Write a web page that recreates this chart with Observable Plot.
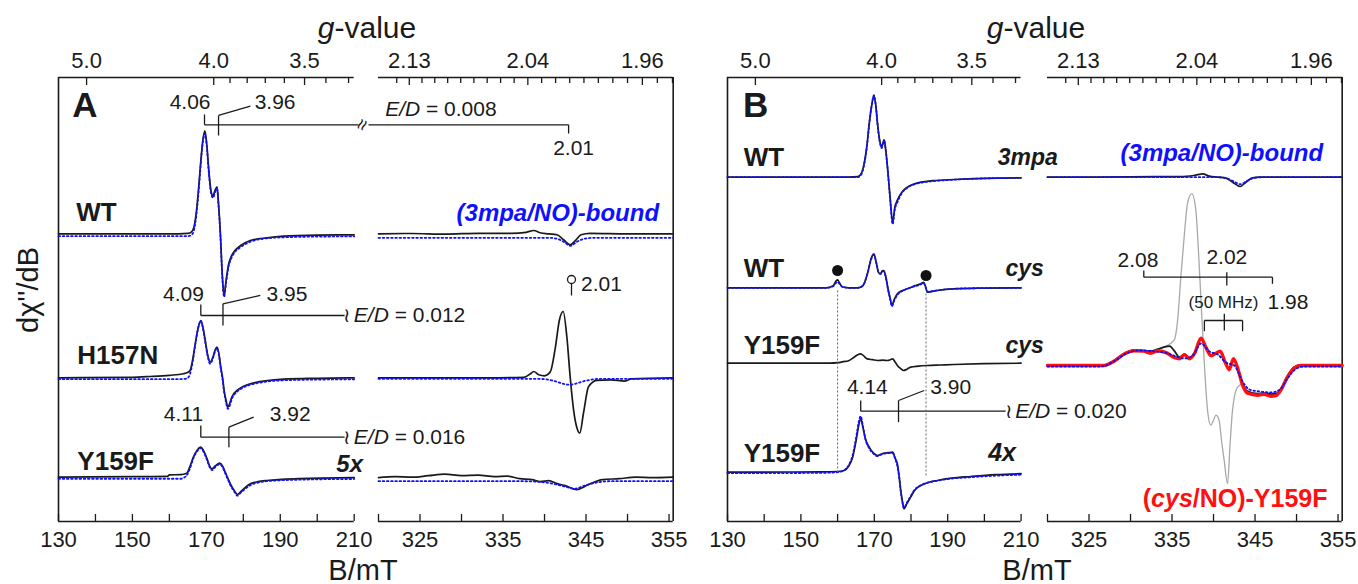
<!DOCTYPE html>
<html><head><meta charset="utf-8">
<script src="https://cdn.jsdelivr.net/npm/d3@7"></script>
<script src="https://cdn.jsdelivr.net/npm/@observablehq/plot@0.6"></script>
<style>
body{margin:0;background:#fff;}
#fig{position:relative;width:1358px;height:584px;overflow:hidden;font-family:"Liberation Sans",Arial,sans-serif;color:#1a1a1a;}
#fig svg{position:absolute;overflow:visible;}
.title{position:absolute;transform:translate(-50%,-50%);white-space:nowrap;line-height:1;}
</style></head>
<body><div id="fig">
<div class="title" style="left:367px;top:28px;font-size:30px"><i>g</i>-value</div>
<div class="title" style="left:1036px;top:28px;font-size:30px"><i>g</i>-value</div>
<div class="title" style="left:363px;top:570px;font-size:29px">B/mT</div>
<div class="title" style="left:1037px;top:570px;font-size:29px">B/mT</div>
<div class="title" style="left:28px;top:290px;font-size:29px;transform:translate(-50%,-50%) rotate(-90deg)">dχ''/dB</div>
</div>
<script>
// ---------- axes ----------
const lowDomain = [130, 210];
const highDomain = [320, 355.5];
const lowTicks = [130, 140, 150, 160, 170, 180, 190, 200, 210];
const lowLabels = [130, 150, 170, 190, 210];
const highTicks = [320, 325, 330, 335, 340, 345, 350, 355];
const highLabels = [325, 335, 345, 355];
const gLowTicks = [5.0, 4.0, 3.9, 3.8, 3.7, 3.6, 3.5, 3.4, 3.3];
const gLowLabels = [5.0, 4.0, 3.5];
const gHighTicks = [2.14, 2.13, 2.12, 2.11, 2.10, 2.09, 2.08, 2.07, 2.06, 2.05, 2.04, 2.03, 2.02, 2.01, 2.00, 1.99, 1.98, 1.97, 1.96, 1.95, 1.94];
const gHighLabels = [2.13, 2.04, 1.96];
const hvLow = 688;    // B(mT) * g, low-field scans
const hvHigh = 689.5; // B(mT) * g, high-field scans

// ---------- baselines (stacking offsets) ----------
const baselineA = {WT: 287.7, H157N: 143.7, Y159F: 44.3};
const baselineB = {WT_3mpa: 344.3, WT_cys: 233.7, Y159F_cys: 158.3, Y159F_4x: 49.3};

// ---------- panel A spectra [B (mT), signal] ----------
const A_WT_low_exp = [[130,0],[160,0],[165,0.5],[166.0,2],[166.6,6],[167.3,22],[167.9,45],[168.4,68],[169.0,92],[169.6,103],[170.1,90],[170.7,62],[171.3,42],[171.8,38],[172.4,44],[172.9,47],[173.3,30],[173.8,0],[174.3,-40],[174.8,-62],[175.3,-48],[176.0,-31],[176.7,-23],[177.4,-18.4],[179.2,-12],[181.9,-6.7],[186.4,-4],[190.9,-2.4],[200,-1.3],[210,-1]];
const A_WT_low_sim = [[130,-2.4],[165,-2.4],[166.0,-1],[166.6,3],[167.3,19],[167.9,42],[168.4,66],[169.0,90],[169.6,100],[170.1,88],[170.7,60],[171.3,40],[171.8,36],[172.4,42],[172.9,45],[173.3,28],[173.8,-2],[174.3,-42],[174.8,-63],[175.3,-50],[176.0,-33],[176.7,-25],[177.4,-20],[179.2,-13.5],[181.9,-8],[186.4,-4.5],[190.9,-3.5],[200,-2.8],[210,-2.6]];
const A_H157N_low_exp = [[130,0],[150,0.5],[154.8,1.3],[160,2.5],[163.8,4],[165.0,5.5],[165.6,7.3],[166.3,18],[167.0,34],[167.8,50],[168.5,57.3],[169.1,50],[169.7,37.3],[170.4,22],[171.0,15.7],[171.9,22],[172.4,28],[172.9,30.7],[173.4,24],[173.9,10.7],[174.4,0],[174.8,-12.7],[175.3,-22],[175.8,-29.3],[176.3,-26],[176.9,-19.3],[178.3,-12.7],[179.8,-9],[181.9,-6],[186,-3],[190.9,-1.3],[200,-0.5],[210,0]];
const A_H157N_low_sim = [[130,-1.4],[163,-1.4],[164.8,-0.5],[165.6,4],[166.3,16],[167.0,33],[167.8,50],[168.5,57],[169.1,49],[169.7,36],[170.4,21],[171.0,14],[171.9,21],[172.4,27],[172.9,29.5],[173.4,23],[173.9,9],[174.4,-2],[174.8,-14],[175.3,-24],[175.8,-31],[176.3,-28],[176.9,-21],[178.3,-14],[179.8,-10],[181.9,-7],[186,-4],[190.9,-2.5],[200,-1.8],[210,-1.5]];
const A_Y159F_low_exp = [[130,0],[150,0.5],[159.5,0.8],[160,2.3],[163,2.5],[164.7,4],[165.6,11],[166.5,20],[167.5,27],[168.5,30],[169.3,26],[170.2,18.3],[170.9,11],[171.5,8.3],[172.5,11.5],[173.6,14],[174.4,11],[175.1,5],[175.8,-1],[176.5,-6.7],[177.5,-13],[178.4,-17.3],[179.2,-15],[180.1,-11.7],[181.9,-6.7],[184,-4.5],[186.4,-3.3],[195,-1.5],[210,-0.5]];
const A_Y159F_low_sim = [[130,-1.6],[163,-1.6],[164.5,1],[165.6,9],[166.5,19],[167.5,26],[168.5,29],[169.3,25],[170.2,17],[170.9,10],[171.5,7],[172.5,10.5],[173.6,13],[174.4,10],[175.1,4],[175.8,-2],[176.5,-8],[177.5,-14],[178.4,-18.5],[179.2,-16],[180.1,-13],[181.9,-8],[184,-5.5],[186.4,-4],[195,-2.5],[210,-1.8]];

const A_WT_high_exp = [[320,0],[324,0.3],[328,-0.3],[332,0.5],[336,0.5],[337.8,1.5],[338.7,3.3],[339.5,1],[340.5,0],[341.5,-1],[342.3,-6],[343.1,-11],[343.8,-6],[344.4,-1],[345.5,0.5],[350,0],[355.5,0]];
const A_WT_high_sim = [[320,-4],[340.5,-4],[341.5,-5],[342.3,-8],[343.1,-12],[343.9,-8],[344.8,-5],[346,-4],[355.5,-4]];
const A_H157N_high_exp = [[320,0],[333,0],[337.5,0.5],[338.3,4],[338.7,6.3],[339.3,3],[340.0,2],[340.7,6],[341.3,30],[341.8,58],[342.25,66.3],[342.7,40],[343.1,0],[343.5,-32],[343.9,-50],[344.25,-55.3],[344.7,-35],[345.3,-9],[346.3,-2.5],[348,-2],[349.6,-3.3],[350.5,-1],[355.5,0]];
const A_H157N_high_sim = [[320,-1],[339,-1],[340.5,-2],[341.5,-4],[342.5,-6.5],[343.1,-7],[343.7,-6],[344.7,-3.5],[346,-1.5],[347,-1],[355.5,-1]];
const A_Y159F_high_exp = [[320,-0.5],[322,0.5],[324,0],[326,1.5],[328,3],[330,1.5],[332,2],[334,0.5],[335.5,1],[337,-1.5],[338.5,-2.5],[339.5,-4.5],[340.5,-3.5],[341.5,-6.5],[342.5,-8.5],[343.9,-12.5],[344.8,-9.5],[345.8,-5.5],[347,-2.5],[349,-1.5],[351,0],[353,-0.5],[355.5,0]];
const A_Y159F_high_sim = [[320,-4],[337,-4],[339,-4.5],[341,-6.5],[342.5,-9.5],[343.6,-11.5],[344.8,-8.5],[346.5,-5],[348,-4],[355.5,-4]];

// ---------- panel B spectra [B (mT), signal] ----------
const B_WT3mpa_low_exp = [[130,0],[163,0],[165.5,0.5],[166.5,4],[167.2,13],[168.0,32],[168.6,53],[169.3,72],[169.9,81.7],[170.4,72],[170.9,53],[171.5,36],[172.0,30],[172.4,35],[172.7,37.4],[173.1,28],[173.6,10],[174.3,-20],[175.0,-45],[175.6,-30],[176.3,-23],[177.5,-15],[179,-10],[181,-6.5],[182.7,-5],[186,-3.5],[191.7,-2.3],[200,-1.2],[210,-0.7]];
const B_WT3mpa_low_sim = [[130,0],[163,0],[165.5,0],[166.5,3],[167.2,12],[168.0,31],[168.6,52],[169.3,72],[169.9,82],[170.4,72],[170.9,52],[171.5,35],[172.0,29],[172.4,34],[172.7,36],[173.1,27],[173.6,9],[174.3,-21],[175.0,-47],[175.6,-32],[176.3,-25],[177.5,-16],[179,-10.5],[181,-7],[182.7,-5.5],[186,-4],[191.7,-2.5],[200,-1.2],[210,-0.7]];
const B_WTcys_low_exp = [[130,0],[157,0],[158.8,2],[159.6,7],[160.0,8],[160.5,5],[161.3,1],[163,0],[165.5,0],[166.5,1],[167.2,4],[168.2,15],[169.2,30],[169.9,34],[170.6,24],[171.2,15],[171.7,14],[172.2,17],[172.6,17.3],[173.2,10],[173.8,-2],[174.3,-10],[174.8,-17.7],[175.4,-12],[176.3,-6],[177.5,-3],[179,-1],[181,2],[182.7,4],[183.4,5.5],[183.9,2],[184.5,-4.4],[185.5,-3.8],[187.2,-2.7],[191.7,-1],[200,-0.3],[210,0]];
const B_WTcys_low_sim = [[130,0],[157,0],[158.8,1.5],[159.6,5],[160.0,6],[160.5,4],[161.3,1],[163,0],[165.5,0],[166.5,1],[167.2,4],[168.2,15],[169.2,29],[169.9,33],[170.6,24],[171.2,15],[171.7,14],[172.2,16],[172.6,16.5],[173.2,9],[173.8,-3],[174.3,-11],[174.8,-18.5],[175.4,-13],[176.3,-7],[177.5,-3.5],[179,-1],[181,1.5],[182.7,3.5],[183.4,5],[183.9,1.5],[184.5,-4],[185.5,-3.5],[187.2,-2.5],[191.7,-1],[200,-0.3],[210,0]];
const B_Y159Fcys_low_exp = [[130,0],[158,0],[160,0.5],[161.5,1.5],[163,2.5],[164.5,6],[165.5,8.5],[166.3,9.4],[167.2,7],[168.1,4.3],[169.5,3.5],[170.9,2.7],[172.3,3],[173.6,2.7],[174.4,3.5],[175.0,4.3],[175.7,1],[176.3,-2.3],[177.2,-5.5],[178.0,-7.3],[178.9,-6],[179.9,-4],[182,-3],[184.5,-2.3],[188,-1.8],[191.7,-1.3],[200,-0.5],[210,0]];
const B_Y159F4x_low_exp = [[130,0],[155,0.3],[160,0.7],[161.8,1.7],[163,6],[164.1,15],[165.2,35],[165.8,48],[166.3,53.4],[166.9,45],[167.6,33],[168.6,25],[169.8,19],[170.9,16.7],[171.8,18],[172.7,19],[173.8,19.5],[175.0,20],[175.7,14],[176.3,8],[176.8,-5],[177.2,-18],[177.7,-30],[178.1,-36.6],[178.8,-32],[179.9,-25],[181,-18],[182.7,-13.3],[184.5,-10.5],[187.2,-8.3],[191,-6],[196.3,-4.3],[203,-2.5],[210,-1.5]];
const B_Y159F4x_low_sim = [[130,-1],[155,-0.7],[160,0],[161.8,2],[163,7],[164.1,17],[165.2,38],[165.8,51],[166.3,56],[166.9,46],[167.6,33],[168.6,24],[169.8,18.5],[170.9,16],[171.8,17.5],[172.7,18.5],[173.8,19],[175.0,19],[175.7,13],[176.3,6],[176.8,-6],[177.2,-19],[177.7,-31],[178.1,-36],[178.8,-31],[179.9,-24],[181,-17.5],[182.7,-13],[184.5,-10.5],[187.2,-8.5],[191,-6.5],[196.3,-5],[203,-3.5],[210,-2.5]];

const B_WT3mpa_high_exp = [[320,0],[330,0.3],[334,0.5],[336,0.5],[337.8,2],[338.7,3.3],[339.5,1],[340.5,0],[341.5,-1],[342.3,-5],[343.2,-9.3],[343.9,-5],[344.6,-1],[345.5,0],[355.5,0]];
const B_WT3mpa_high_sim = [[320,0],[340.5,0],[341.5,-1],[342.4,-4],[343.2,-7],[344,-4],[344.8,-1],[346,0],[355.5,0]];
const B_Y159Fcys_high_exp = [[320,-2],[326.8,-2],[328.0,2.5],[329.2,9.5],[330.4,13],[331.6,12.5],[332.4,12],[333.3,14],[334.0,16],[334.7,17],[335.3,12],[335.9,6],[336.5,9],[337.1,5],[337.7,10],[338.5,24],[339.1,16],[339.7,8],[340.2,10],[340.8,12],[341.4,1],[341.9,-6],[342.4,4],[343.0,-7],[343.5,-21],[344.1,-28],[345.3,-30.5],[346.1,-30],[346.9,-31],[347.5,-30.5],[348.1,-26],[348.9,-13],[349.7,-4],[350.5,-2],[355.5,-2]];
const B_grey_high = [[320,-2],[326.8,-2],[328.0,2.5],[329.2,9.5],[330.4,13],[331.6,12.5],[332.4,12],[333.3,14],[334.05,16],[335.25,23],[335.7,45],[336.06,86],[336.5,130],[336.87,160],[337.39,169.5],[337.87,153],[338.2,110],[338.47,66],[338.87,3],[339.28,-47],[339.67,-62],[340.0,-57],[340.28,-52],[340.67,-57],[341.0,-80],[341.28,-97],[341.69,-120.5],[342.0,-80],[342.29,-47],[342.9,-24],[343.5,-21],[344.1,-28],[345.3,-30.5],[346.1,-30],[346.9,-31],[347.5,-30.5],[348.1,-26],[348.9,-13],[349.7,-4],[350.5,-2],[355.5,-2]];
const B_cysNO_high_red = [[320,-2.3],[326.8,-2.3],[328.0,2],[329.2,9],[330.4,12.5],[331.6,12],[332.4,10],[333.3,12.5],[334.3,10.5],[335.3,5.5],[335.9,4.5],[336.5,8.5],[337.1,4.5],[337.7,9.5],[338.5,25],[339.1,15.5],[339.7,7.5],[340.2,9.5],[340.8,12],[341.4,1],[341.9,-6.5],[342.4,4.5],[343.0,-7.5],[343.5,-22],[344.1,-30],[345.3,-32],[346.1,-31],[346.9,-33],[347.5,-32.5],[348.1,-27],[348.9,-14],[349.7,-5],[350.5,-2.3],[355.5,-2.3]];
const B_cysNO_high_sim = [[320,-3.3],[326.5,-3.3],[328,1.7],[329.5,9.7],[331,12.7],[333,11.7],[334.5,9.7],[335.5,6.7],[336.5,4.7],[337.5,7.7],[338.5,19.7],[339.5,11.7],[340.5,8.7],[341.5,0.7],[342.5,-2.3],[343.5,-18.3],[344.3,-26.3],[345.5,-28.3],[347,-29.3],[348,-26.3],[349,-14.3],[350,-5.3],[351,-3.3],[355.5,-3.3]];

// ---------- styles ----------
const INK = "#1a1a1a";
const BLUE = "#1010ff";
const RED = "#ff1010";
const FONT = "Liberation Sans, Arial, sans-serif";
const exp = (data, base) => ({data, base, stroke: INK, width: 1.7});
const sim = (data, base) => ({data, base, stroke: BLUE, width: 1.8, dash: "1.6,2.6"});

// ---------- layout ----------
const fig = document.getElementById("fig");
const FRAME_TOP = 77, FRAME_H = 444;
const M = {top: 40, right: 30, bottom: 40, left: 30};

function T(x, y, text, o = {}) {
  return Plot.text([{x, y, text}], {x: "x", y: "y", text: "text", fontSize: o.size ?? 21,
    fontWeight: o.weight ?? "normal", fontStyle: o.style ?? "normal", textAnchor: o.anchor ?? "middle",
    fill: o.fill ?? INK, rotate: o.rotate ?? 0});
}

function segment({left, right, domain, side, hv, bTicks, bLabels, gTicks, gLabels, gDigits, traces, links = [], dotted = [], texts = [], extra = []}) {
  const marks = [
    Plot.ruleY([0, FRAME_H], {stroke: INK, strokeWidth: 1.6}),
    Plot.ruleX([side === "left" ? domain[0] : domain[1]], {stroke: INK, strokeWidth: 1.6}),
    Plot.ruleX(bTicks, {x: d => d, y1: 0, y2: 7, stroke: INK, strokeWidth: 1.3}),
    Plot.text(bLabels, {x: d => d, y: 0, dy: 18, text: d => String(d), fontSize: 22, fill: INK}),
    Plot.ruleX(gTicks, {x: g => hv / g, y1: FRAME_H, y2: g => FRAME_H - (gLabels.includes(g) ? 8 : 6), stroke: INK, strokeWidth: 1.3}),
    Plot.text(gLabels, {x: g => hv / g, y: FRAME_H, dy: -17, text: g => g.toFixed(gDigits), fontSize: 22, fill: INK}),
    ...traces.map(t => Plot.line(t.data, {x: d => d[0], y: d => t.base + d[1], curve: "monotone-x",
      stroke: t.stroke, strokeWidth: t.width, strokeDasharray: t.dash})),
    Plot.link(links, {x1: "x1", y1: "y1", x2: "x2", y2: "y2", stroke: INK, strokeWidth: 1.3}),
    Plot.link(dotted, {x1: "x1", y1: "y1", x2: "x2", y2: "y2", stroke: "#666", strokeWidth: 1, strokeDasharray: "2,2"}),
    ...extra,
    ...texts
  ];
  const svg = Plot.plot({
    width: right - left + M.left + M.right,
    height: FRAME_H + M.top + M.bottom,
    marginTop: M.top, marginRight: M.right, marginBottom: M.bottom, marginLeft: M.left,
    x: {domain, axis: null},
    y: {domain: [0, FRAME_H], axis: null},
    style: {overflow: "visible", background: "transparent", fontFamily: FONT},
    marks
  });
  svg.style.left = (left - M.left) + "px";
  svg.style.top = (FRAME_TOP - M.top) + "px";
  fig.append(svg);
}
const L = (x1, y1, x2, y2) => ({x1, y1, x2, y2});
const lowAxes = {domain: lowDomain, side: "left", hv: hvLow, bTicks: lowTicks, bLabels: lowLabels, gTicks: gLowTicks, gLabels: gLowLabels, gDigits: 1};
const highAxes = {domain: highDomain, side: "right", hv: hvHigh, bTicks: highTicks, bLabels: highLabels, gTicks: gHighTicks, gLabels: gHighLabels, gDigits: 2};
const bold = {size: 26, weight: "bold", anchor: "start"};

// Panel A, low field
segment({left: 58.3, right: 354, ...lowAxes,
  traces: [exp(A_WT_low_exp, baselineA.WT), sim(A_WT_low_sim, baselineA.WT),
           exp(A_H157N_low_exp, baselineA.H157N), sim(A_H157N_low_sim, baselineA.H157N),
           exp(A_Y159F_low_exp, baselineA.Y159F), sim(A_Y159F_low_sim, baselineA.Y159F)],
  links: [L(169.5,407,169.5,396.7), L(169.5,396.7,211.1,396.7), L(173.3,406,173.3,386), L(173.3,406,181.9,415.3),
          L(168.5,217,168.5,206), L(168.5,206,207.4,206), L(174.5,217.7,174.5,196), L(174.5,217.7,184.6,226),
          L(168.5,96,168.5,84.3), L(168.5,84.3,207.4,84.3), L(176.1,94.3,176.1,74.3), L(176.1,94.3,182.8,104.3)],
  texts: [T(133.7, 416, "A", {size: 35, weight: "bold", anchor: "start"}),
          T(134.8, 308.5, "WT", bold), T(135.1, 166, "H157N", bold), T(135.1, 60, "Y159F", bold),
          T(165.6, 419.3, "4.06"), T(188.6, 419.3, "3.96"),
          T(163.8, 227, "4.09"), T(191.8, 227, "3.95"),
          T(163.8, 107, "4.11"), T(192.7, 107, "3.92"),
          T(208.1, 206, "≀", {size: 20}), T(209.9, 206, "E/D = 0.012", {anchor: "start"}),
          T(208.1, 84.3, "≀", {size: 20}), T(209.9, 84.3, "E/D = 0.016", {anchor: "start"}),
          T(212.2, 396.7, "≈", {size: 20, rotate: -65}),
          T(212.4, 57, "5x", {size: 24, weight: "bold", style: "italic", anchor: "end"})]
});

// Panel A, high field
segment({left: 378, right: 672.7, ...highAxes,
  traces: [exp(A_WT_high_exp, baselineA.WT), sim(A_WT_high_sim, baselineA.WT),
           exp(A_H157N_high_exp, baselineA.H157N), sim(A_H157N_high_sim, baselineA.H157N),
           exp(A_Y159F_high_exp, baselineA.Y159F), sim(A_Y159F_high_sim, baselineA.Y159F)],
  links: [L(318.8,396.7,342.9,396.7), L(342.9,396.7,342.9,388), L(343.25,238,343.25,226)],
  extra: [Plot.dot([{x: 343.25, y: 242}], {x: "x", y: "y", r: 4, stroke: INK, strokeWidth: 1.3, fill: "white"})],
  texts: [T(320.8, 412.7, "E/D = 0.008", {anchor: "start"}), T(343.5, 373, "2.01"),
          T(341.6, 307.7, "(3mpa/NO)-bound", {size: 24, weight: "bold", style: "italic", fill: BLUE}),
          T(344.4, 237.7, "2.01", {anchor: "start"})]
});

// Panel B, low field
segment({left: 726.7, right: 1020.3, ...lowAxes,
  traces: [exp(B_WT3mpa_low_exp, baselineB.WT_3mpa), sim(B_WT3mpa_low_sim, baselineB.WT_3mpa),
           exp(B_WTcys_low_exp, baselineB.WT_cys), sim(B_WTcys_low_sim, baselineB.WT_cys),
           exp(B_Y159Fcys_low_exp, baselineB.Y159F_cys),
           exp(B_Y159F4x_low_exp, baselineB.Y159F_4x), sim(B_Y159F4x_low_sim, baselineB.Y159F_4x)],
  links: [L(166.3,121,166.3,110.3), L(166.3,110.3,205.8,110.3), L(176.6,121,176.6,99.3), L(176.6,121,183.6,131)],
  dotted: [L(160.0,231,160.0,49.3), L(184.1,228,184.1,46)],
  extra: [Plot.dot([{x: 160.0, y: 251}, {x: 184.1, y: 246}], {x: "x", y: "y", r: 5.5, fill: "#111", stroke: "none"})],
  texts: [T(134.2, 416, "B", {size: 35, weight: "bold", anchor: "start"}),
          T(134.4, 364, "WT", bold), T(134.4, 253, "WT", bold), T(134.4, 176, "Y159F", bold), T(134.4, 67.5, "Y159F", bold),
          T(220.0, 364, "3mpa", {size: 23, weight: "bold", style: "italic", anchor: "end"}),
          T(216.2, 253, "cys", {size: 23, weight: "bold", style: "italic", anchor: "end"}),
          T(216.2, 176, "cys", {size: 23, weight: "bold", style: "italic", anchor: "end"}),
          T(168.1, 134.3, "4.14"), T(190.8, 134.3, "3.90"),
          T(206.6, 110.3, "≀", {size: 20}), T(208.4, 110.3, "E/D = 0.020", {anchor: "start"}),
          T(208.6, 68, "4x", {size: 25, weight: "bold", style: "italic", anchor: "end"})]
});

// Panel B, high field
segment({left: 1046.7, right: 1341.4, ...highAxes,
  traces: [exp(B_WT3mpa_high_exp, baselineB.WT_3mpa), sim(B_WT3mpa_high_sim, baselineB.WT_3mpa),
           {data: B_grey_high, base: baselineB.Y159F_cys, stroke: "#a8a8a8", width: 1.3},
           exp(B_Y159Fcys_high_exp, baselineB.Y159F_cys),
           {data: B_cysNO_high_red, base: baselineB.Y159F_cys, stroke: RED, width: 3.4},
           sim(B_cysNO_high_sim, baselineB.Y159F_cys)],
  links: [L(331.6,251,331.6,244.3), L(331.6,244.3,347.1,244.3), L(347.1,244.3,347.1,237.7), L(341.6,249.3,341.6,236),
          L(338.9,201,343.5,201), L(338.9,201,338.9,190.3), L(343.5,201,343.5,190.3), L(341.3,207.7,341.3,191)],
  texts: [T(341.0, 368.3, "(3mpa/NO)-bound", {size: 24, weight: "bold", style: "italic", fill: BLUE}),
          T(330.9, 261, "2.08"), T(341.6, 264.3, "2.02"),
          T(341.2, 219.3, "(50 MHz)", {size: 17}), T(346.5, 219.3, "1.98", {anchor: "start"}),
          T(342.6, 22.7, "(cys/NO)-Y159F", {size: 25, weight: "bold", fill: RED})]
});

// italic parts inside labels
d3.selectAll("#fig svg text").each(function() {
  const s = this.textContent;
  if (s.startsWith("E/D")) this.innerHTML = '<tspan font-style="italic">E/D</tspan>' + s.slice(3);
  else if (s.startsWith("(cys/")) this.innerHTML = '(<tspan font-style="italic">cys</tspan>' + s.slice(4);
});
</script>
</body></html>
